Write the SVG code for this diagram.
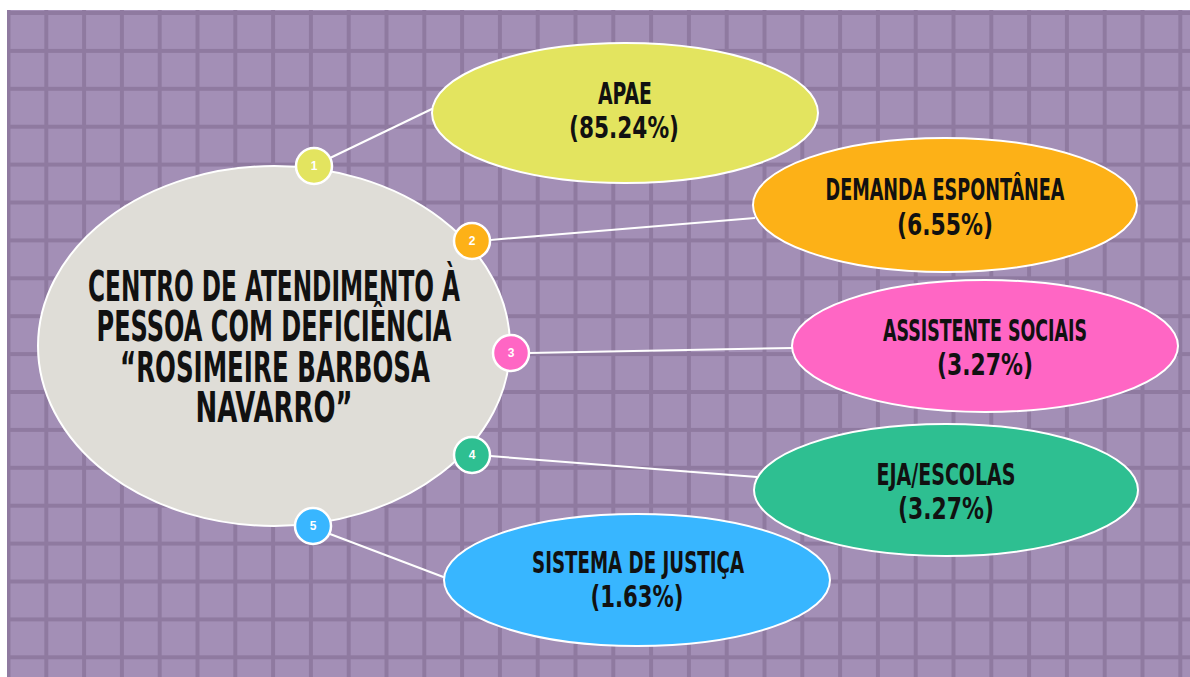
<svg xmlns="http://www.w3.org/2000/svg" width="1190" height="677" viewBox="0 0 1190 677">
<style>
.lbl{font-family:"Liberation Sans Narrow","DejaVu Sans Condensed","Liberation Sans",sans-serif;font-weight:bold;fill:#111;text-anchor:middle}
.big{font-size:42px}
.mid{font-size:30px}
.num{font-family:"Liberation Sans","DejaVu Sans",sans-serif;font-weight:bold;font-size:12px;fill:#fff;text-anchor:middle}
.ell{stroke:#fff;stroke-width:2}
.dot{stroke:#fff;stroke-width:2.5}
.con{stroke:#fff;stroke-width:2;fill:none}
</style>
<defs>
<pattern id="grid" x="8.5" y="13" width="37.8" height="37.9" patternUnits="userSpaceOnUse">
<rect x="0" y="0" width="37.8" height="37.9" fill="#a38fb6"/>
<rect x="-2" y="0" width="4" height="37.9" fill="#8f7aa0"/>
<rect x="35.8" y="0" width="4" height="37.9" fill="#8f7aa0"/>
<rect x="0" y="-2" width="37.8" height="4" fill="#8f7aa0"/>
<rect x="0" y="35.9" width="37.8" height="4" fill="#8f7aa0"/>
</pattern>
</defs>
<rect width="1190" height="677" fill="#ffffff"/>
<rect x="7" y="10" width="1183" height="667" fill="url(#grid)"/>
<g id="connectors">
<line class="con" x1="330" y1="158" x2="436" y2="107"/>
<line class="con" x1="490" y1="240" x2="755" y2="218"/>
<line class="con" x1="529" y1="353" x2="793" y2="348"/>
<line class="con" x1="490" y1="456" x2="757" y2="477"/>
<line class="con" x1="330" y1="534" x2="446" y2="578"/>
</g>
<g id="center">
<ellipse class="ell" cx="274" cy="346" rx="236" ry="180" fill="#dfddd7"/>
<text class="lbl big" x="274" y="301" textLength="372" lengthAdjust="spacingAndGlyphs">CENTRO DE ATENDIMENTO À</text>
<text class="lbl big" x="274" y="341" textLength="355" lengthAdjust="spacingAndGlyphs">PESSOA COM DEFICIÊNCIA</text>
<text class="lbl big" x="275" y="382" textLength="310" lengthAdjust="spacingAndGlyphs">“ROSIMEIRE BARBOSA</text>
<text class="lbl big" x="274" y="422" textLength="157" lengthAdjust="spacingAndGlyphs">NAVARRO”</text>
</g>
<g id="apae">
<ellipse class="ell" cx="625" cy="113" rx="193" ry="70" fill="#e3e45f"/>
<text class="lbl mid" x="625" y="104" textLength="54" lengthAdjust="spacingAndGlyphs">APAE</text>
<text class="lbl mid" x="624" y="138" textLength="110" lengthAdjust="spacingAndGlyphs">(85.24%)</text>
</g>
<g id="demanda">
<ellipse class="ell" cx="945" cy="205" rx="192" ry="67" fill="#fdb117"/>
<text class="lbl mid" x="945" y="200" textLength="239" lengthAdjust="spacingAndGlyphs">DEMANDA ESPONTÂNEA</text>
<text class="lbl mid" x="945" y="235" textLength="96" lengthAdjust="spacingAndGlyphs">(6.55%)</text>
</g>
<g id="assistente">
<ellipse class="ell" cx="985" cy="346" rx="193" ry="66" fill="#ff66c4"/>
<text class="lbl mid" x="985" y="341" textLength="204" lengthAdjust="spacingAndGlyphs">ASSISTENTE SOCIAIS</text>
<text class="lbl mid" x="985" y="375" textLength="96" lengthAdjust="spacingAndGlyphs">(3.27%)</text>
</g>
<g id="eja">
<ellipse class="ell" cx="946" cy="490" rx="192" ry="66" fill="#2ebf91"/>
<text class="lbl mid" x="946" y="485" textLength="139" lengthAdjust="spacingAndGlyphs">EJA/ESCOLAS</text>
<text class="lbl mid" x="946" y="519" textLength="96" lengthAdjust="spacingAndGlyphs">(3.27%)</text>
</g>
<g id="sistema">
<ellipse class="ell" cx="637" cy="580" rx="193" ry="66" fill="#38b6ff"/>
<text class="lbl mid" x="638" y="573" textLength="212" lengthAdjust="spacingAndGlyphs">SISTEMA DE JUSTIÇA</text>
<text class="lbl mid" x="637" y="607" textLength="93" lengthAdjust="spacingAndGlyphs">(1.63%)</text>
</g>
<g id="n1"><circle class="dot" cx="314" cy="166" r="18" fill="#e3e45f"/><text class="num" x="314" y="170">1</text></g>
<g id="n2"><circle class="dot" cx="472" cy="241" r="18" fill="#fdb117"/><text class="num" x="472" y="245">2</text></g>
<g id="n3"><circle class="dot" cx="511" cy="353" r="18" fill="#ff66c4"/><text class="num" x="511" y="357">3</text></g>
<g id="n4"><circle class="dot" cx="472" cy="455" r="18" fill="#2ebf91"/><text class="num" x="472" y="459">4</text></g>
<g id="n5"><circle class="dot" cx="313" cy="526" r="18" fill="#38b6ff"/><text class="num" x="313" y="530">5</text></g>
</svg>
